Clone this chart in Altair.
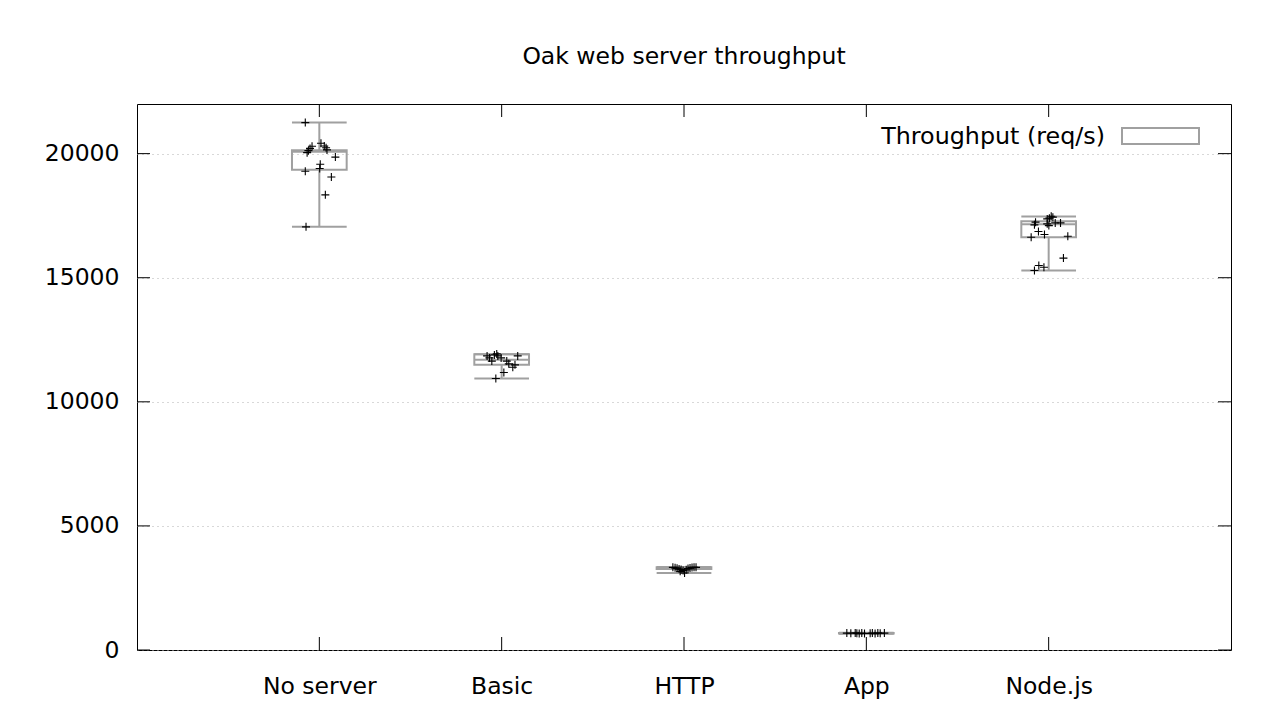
import altair as alt
import pandas as pd

categories = ["No server", "Basic", "HTTP", "App", "Node.js"]

# box statistics (req/s)
whisker_low = [17050, 10940, 3100, 655, 15290]
q1 = [19350, 11490, 3260, 665, 16630]
median = [20080, 11700, 3290, 675, 17150]
q3 = [20140, 11920, 3330, 685, 17280]
whisker_high = [21250, 11920, 3340, 695, 17470]

# individual samples: value and horizontal jitter (category units)
noserver_vals = [21250, 20300, 20210, 20120, 20040, 20420, 20310, 20240, 20150,
                 19860, 19570, 19400, 19290, 19060, 18340, 17050]
noserver_jit = [-0.077, -0.040, -0.051, -0.060, -0.067, 0.009, 0.027, 0.037, 0.042,
                0.088, 0.005, 0.002, -0.077, 0.066, 0.033, -0.073]
basic_vals = [11850, 11770, 11640, 11890, 11930, 11850, 11770, 11640, 11530,
              11490, 11390, 11850, 11180, 10940]
basic_jit = [-0.080, -0.067, -0.054, -0.040, -0.027, -0.021, -0.003, 0.028, 0.039,
             0.073, 0.061, 0.088, 0.012, -0.032]
http_vals = [3330, 3310, 3290, 3260, 3240, 3200, 3100, 3230, 3280, 3300, 3320,
             3330, 3330, 3170]
http_jit = [-0.061, -0.049, -0.038, -0.027, -0.016, -0.005, 0.003, 0.012, 0.022,
            0.033, 0.044, 0.055, 0.066, -0.021]
app_vals = [680, 675, 690, 670, 660, 685, 665, 670, 680, 660, 690, 675, 680]
app_jit = [-0.107, -0.085, -0.061, -0.052, -0.039, -0.025, -0.010, 0.021, 0.033,
           0.048, 0.063, 0.076, 0.099]
node_vals = [17480, 17440, 17400, 17370, 17240, 17130, 17170, 17100, 17210, 17210,
             16860, 16740, 16630, 16670, 15790, 15490, 15420, 15290]
node_jit = [0.014, 0.023, 0.004, -0.008, -0.072, -0.078, -0.008, 0.001, 0.036, 0.065,
            -0.056, -0.023, -0.096, 0.105, 0.081, -0.054, -0.026, -0.078]

y_ticks = [0, 5000, 10000, 15000, 20000]
legend_label = "Throughput (req/s)"
title_text = "Oak web server throughput"

FONT = "DejaVu Sans"
GRAY = "#a0a0a0"
W, H = 1094, 546
HALF = 0.15
TICK = 13

stats = pd.DataFrame({
    "cat": categories,
    "pos": list(range(1, len(categories) + 1)),
    "lo": whisker_low, "q1": q1, "med": median, "q3": q3, "hi": whisker_high,
})
stats["left"] = stats["pos"] - HALF
stats["right"] = stats["pos"] + HALF

rows = []
for i, (vals, jit) in enumerate([(noserver_vals, noserver_jit), (basic_vals, basic_jit),
                                  (http_vals, http_jit), (app_vals, app_jit),
                                  (node_vals, node_jit)]):
    for v, j in zip(vals, jit):
        rows.append({"cat": categories[i], "x": i + 1 + j, "v": v})
points = pd.DataFrame(rows)

label_expr = "[" + ",".join(["''"] + ["'" + c + "'" for c in categories] + ["''"]) + "][datum.value]"

xscale = alt.Scale(domain=[0, 6], nice=False, zero=False)
yscale = alt.Scale(domain=[0, 22000], nice=False)

xaxis = alt.Axis(values=[1, 2, 3, 4, 5], labelExpr=label_expr, title=None, grid=False,
                 ticks=False, domain=False, labelFont=FONT, labelFontSize=23.5,
                 labelColor="black", labelPadding=24)
yaxis = alt.Axis(values=y_ticks, format="d", title=None, grid=True, gridDash=[1, 4],
                 gridColor="#b0b0b0", gridWidth=1, ticks=False, domain=False,
                 labelFont=FONT, labelFontSize=23.5, labelColor="black",
                 labelPadding=18, labelFlush=False)

base = alt.Chart(stats)

box = base.mark_rect(fill="white", fillOpacity=0, stroke=GRAY, strokeWidth=2).encode(
    x=alt.X("left:Q", scale=xscale, axis=xaxis),
    x2="right:Q",
    y=alt.Y("q1:Q", scale=yscale, axis=yaxis),
    y2="q3:Q",
)
whisk_lo = base.mark_rule(color=GRAY, strokeWidth=2).encode(
    x=alt.X("pos:Q", scale=xscale), y=alt.Y("lo:Q", scale=yscale), y2="q1:Q")
whisk_hi = base.mark_rule(color=GRAY, strokeWidth=2).encode(
    x=alt.X("pos:Q", scale=xscale), y=alt.Y("q3:Q", scale=yscale), y2="hi:Q")
cap_lo = base.mark_rule(color=GRAY, strokeWidth=2).encode(
    x=alt.X("left:Q", scale=xscale), x2="right:Q", y=alt.Y("lo:Q", scale=yscale))
cap_hi = base.mark_rule(color=GRAY, strokeWidth=2).encode(
    x=alt.X("left:Q", scale=xscale), x2="right:Q", y=alt.Y("hi:Q", scale=yscale))
med = base.mark_rule(color=GRAY, strokeWidth=2).encode(
    x=alt.X("left:Q", scale=xscale), x2="right:Q", y=alt.Y("med:Q", scale=yscale))

pts = alt.Chart(points).mark_point(shape="M-1,0L1,0M0,-1L0,1", filled=False,
                                   stroke="black", strokeWidth=1.1, size=64, opacity=1).encode(
    x=alt.X("x:Q", scale=xscale), y=alt.Y("v:Q", scale=yscale))

# inward tick marks on all four sides (gnuplot style with mirror)
ydf = pd.DataFrame({"t": y_ticks})
xdf = pd.DataFrame({"t": list(range(1, len(categories) + 1))})
tick_l = alt.Chart(ydf).mark_rule(color="black", strokeWidth=1).encode(
    y=alt.Y("t:Q", scale=yscale), x=alt.value(0), x2=alt.value(TICK))
tick_r = alt.Chart(ydf).mark_rule(color="black", strokeWidth=1).encode(
    y=alt.Y("t:Q", scale=yscale), x=alt.value(W - TICK), x2=alt.value(W))
tick_b = alt.Chart(xdf).mark_rule(color="black", strokeWidth=1).encode(
    x=alt.X("t:Q", scale=xscale), y=alt.value(H - TICK), y2=alt.value(H))
tick_t = alt.Chart(xdf).mark_rule(color="black", strokeWidth=1).encode(
    x=alt.X("t:Q", scale=xscale), y=alt.value(0), y2=alt.value(TICK))

# legend (label left of sample box, gnuplot style)
ldf = pd.DataFrame({"label": [legend_label]})
leg_text = alt.Chart(ldf).mark_text(font=FONT, fontSize=23.8, align="right",
                                    baseline="alphabetic", color="black").encode(
    text="label:N", x=alt.value(968), y=alt.value(40))
leg_box = alt.Chart(ldf).mark_rect(fill="white", stroke=GRAY, strokeWidth=2).encode(
    x=alt.value(985), x2=alt.value(1062), y=alt.value(24), y2=alt.value(40))

chart = alt.layer(
    box, whisk_lo, whisk_hi, cap_lo, cap_hi, med, pts,
    tick_l, tick_r, tick_b, tick_t, leg_box, leg_text,
).properties(
    width=W, height=H,
    background="white",
    title=alt.TitleParams(title_text, font=FONT, fontSize=23.5, fontWeight="normal",
                          color="black", anchor="middle", baseline="alphabetic", offset=16),
    autosize=alt.AutoSizeParams(type="none"),
    padding={"left": 129, "top": 96, "right": 40, "bottom": 60},
).configure_view(stroke="black", strokeWidth=1)

chart.save("out.html", embed_options={"renderer": "svg", "actions": False})
